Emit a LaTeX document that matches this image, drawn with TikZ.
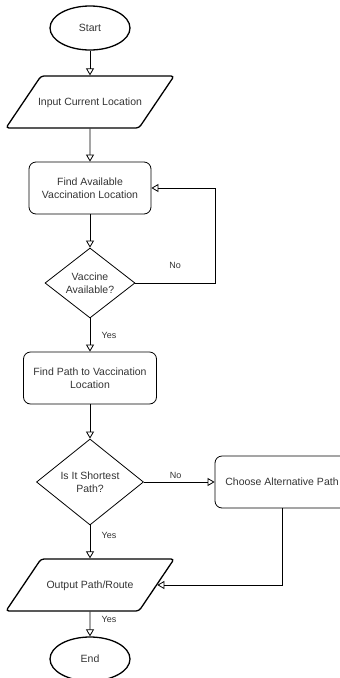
\documentclass[tikz,border=0pt]{standalone}
\usepackage{fontspec}
\setmainfont{Liberation Sans}
\usetikzlibrary{shapes.geometric,arrows.meta}

\begin{document}
\begin{tikzpicture}[x=1pt,y=-1pt,
  every node/.style={font=\fontsize{10.5}{12.5}\selectfont, text=black!80},
  term/.style={draw, ellipse, line width=1.3pt, minimum width=80pt, minimum height=44pt},
  io/.style={draw, trapezium, trapezium left angle=56, trapezium right angle=124,
    trapezium stretches body, line width=1.3pt, rounded corners=3pt,
    text height=8pt, text depth=2pt, inner ysep=21pt, inner xsep=0pt,
    execute at begin node={\hbox to 98pt\bgroup\hss},
    execute at end node={\hss\egroup}},
  proc/.style={draw, rounded corners=7pt, line width=0.8pt, align=center, minimum height=52pt},
  decide/.style={draw, diamond, line width=0.8pt, align=center, inner sep=0pt},
  flow/.style={-{Triangle[open,length=7pt,width=8pt]}, line width=0.8pt},
  lbl/.style={font=\fontsize{9}{11}\selectfont}
]
\useasboundingbox (0,0) rectangle (340,678);
\clip (0,0) rectangle (340,678);
\node[term] (start) at (90,28) {Start};
\node[io] (input) at (90,102) {Input Current Location};
\node[proc, minimum width=122pt] (find) at (90,188) {Find Available\\Vaccination Location};
\node[decide, minimum width=90pt, minimum height=70pt] (avail) at (90,283) {Vaccine\\Available?};
\node[proc, minimum width=133pt] (path) at (90,378) {Find Path to Vaccination\\Location};
\node[decide, minimum width=107pt, minimum height=86pt] (short) at (90,482) {Is It Shortest\\Path?};
\node[proc, minimum width=134pt] (alt) at (282,482) {Choose Alternative Path};
\node[io] (output) at (90,585) {Output Path/Route};
\node[term] (end) at (90,659) {End};
\coordinate (noturn) at (215,188);
% main flow
\draw[flow] (start) -- (input);
\draw[flow] (input) -- (find);
\draw[flow] (find) -- (avail);
\draw[flow] (avail) -- node[lbl, right=8pt, pos=0.5] {Yes} (path);
\draw[flow] (path) -- (short);
\draw[flow] (short) -- node[lbl, right=8pt, pos=0.3] {Yes} (output);
\draw[flow] (output) -- node[lbl, right=8pt, pos=0.3] {Yes} (end);
% side loops
\draw[flow] (avail.east) -| node[lbl, above=11pt, pos=0.25] {No} (noturn) -- (find.east);
\draw[flow] (short.east) -- node[lbl, above, pos=0.45] {No} (alt.west);
\draw[flow] (alt.south) |- (output.0);
\end{tikzpicture}
\end{document}
